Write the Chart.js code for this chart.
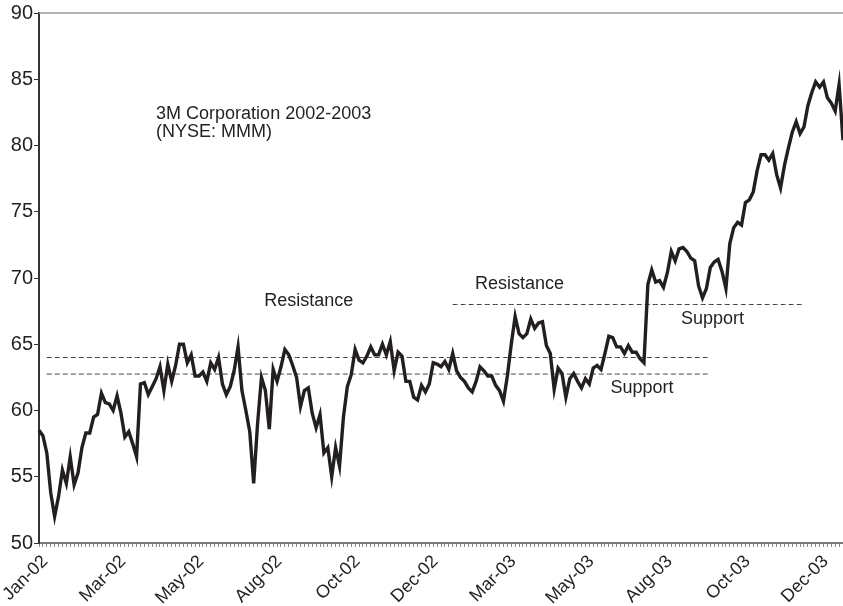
<!DOCTYPE html>
<html>
<head>
<meta charset="utf-8">
<script src="https://cdn.jsdelivr.net/npm/chart.js@4.4.1/dist/chart.umd.min.js"></script>
<style>
  html, body { margin: 0; padding: 0; background: #fff; }
  #wrap { width: 843px; height: 606px; position: relative; }
</style>
</head>
<body>
<div id="wrap"><canvas id="mmm"></canvas></div>
<script>
// month labels, one every 20 sampled trading sessions
var tickLabels = ['Jan-02', 'Mar-02', 'May-02', 'Aug-02', 'Oct-02', 'Dec-02',
                  'Mar-03', 'May-03', 'Aug-03', 'Oct-03', 'Dec-03'];
var labelEvery = 20;

// closing price
var prices = [
  58.5, 58.1, 56.8, 53.8, 52.0, 53.5, 55.5, 54.5, 56.5, 54.4,
  55.3, 57.2, 58.3, 58.3, 59.5, 59.7, 61.3, 60.6, 60.5, 60.0,
  61.1, 59.8, 58.0, 58.4, 57.5, 56.5, 62.0, 62.1, 61.2, 61.8,
  62.4, 63.3, 61.5, 63.5, 62.2, 63.4, 65.0, 65.0, 63.6, 64.2,
  62.6, 62.6, 62.9, 62.2, 63.6, 63.1, 64.0, 62.0, 61.2, 61.8,
  63.0, 64.8, 61.5, 60.0, 58.4, 54.5, 59.0, 62.5, 61.5, 58.6,
  63.1, 62.2, 63.3, 64.6, 64.2, 63.4, 62.5, 60.3, 61.5, 61.7,
  59.8, 58.7, 59.7, 56.8, 57.2, 55.0, 57.2, 55.8, 59.5, 61.8,
  62.7, 64.6, 63.8, 63.6, 64.1, 64.8, 64.2, 64.2, 65.0, 64.2,
  65.2, 63.0, 64.4, 64.1, 62.2, 62.2, 61.0, 60.8, 61.9, 61.4,
  62.0, 63.6, 63.5, 63.3, 63.7, 63.1, 64.3, 63.0, 62.5, 62.2,
  61.7, 61.4, 62.2, 63.3, 63.0, 62.6, 62.6, 61.9, 61.5, 60.7,
  62.6, 65.0, 67.1, 65.8, 65.5, 65.8, 66.9, 66.2, 66.6, 66.7,
  64.9, 64.3, 61.6, 63.2, 62.8, 61.0, 62.4, 62.8, 62.2, 61.7,
  62.4, 62.0, 63.2, 63.4, 63.1, 64.3, 65.6, 65.5, 64.8, 64.8,
  64.3, 64.9, 64.4, 64.4, 63.9, 63.6, 69.5, 70.6, 69.7, 69.8,
  69.3, 70.4, 72.0, 71.3, 72.2, 72.3, 72.0, 71.5, 71.3, 69.4,
  68.5, 69.2, 70.8, 71.2, 71.4, 70.5, 69.2, 72.6, 73.8, 74.2,
  74.0, 75.7, 75.9, 76.5, 78.1, 79.3, 79.3, 78.9, 79.4, 77.8,
  76.8, 78.5, 79.8, 81.0, 81.8, 80.9, 81.4, 83.0, 84.0, 84.8,
  84.4, 84.8, 83.6, 83.2, 82.6, 84.6, 80.4
];

// support / resistance levels and the sessions they span
var levelValues = [64.0, 62.75, 68.0];
var levelStart = [2, 2, 106];
var levelEnd = [172, 172, 196];

var categories = prices.map(function (p, i) {
  return i % labelEvery === 0 ? tickLabels[i / labelEvery] : '';
});

var font = '"Liberation Sans", Arial, Helvetica, sans-serif';
var ink = '#231f20';

// text notes, placed in data units (session index, price)
var notes = [
  { text: '3M Corporation 2002-2003', at: 30, value: 82.0 },
  { text: '(NYSE: MMM)', at: 30, value: 80.64 },
  { text: 'Resistance', at: 57.7, value: 67.9 },
  { text: 'Resistance', at: 111.7, value: 69.2 },
  { text: 'Support', at: 164.5, value: 66.5 },
  { text: 'Support', at: 146.4, value: 61.3 }
];

var datasets = [{
  data: prices,
  borderColor: ink,
  borderWidth: 3.4,
  pointRadius: 0,
  tension: 0,
  order: 0
}];
levelValues.forEach(function (v, k) {
  datasets.push({
    data: prices.map(function (p, i) {
      return i >= levelStart[k] && i <= levelEnd[k] ? v : null;
    }),
    borderColor: '#444',
    borderWidth: 1,
    borderDash: [5, 3],
    pointRadius: 0,
    spanGaps: false,
    order: 1
  });
});

var decorations = {
  id: 'decorations',
  afterDatasetsDraw: function (chart) {
    var ctx = chart.ctx, area = chart.chartArea;
    var xs = chart.scales.x, ys = chart.scales.y;
    ctx.save();
    ctx.strokeStyle = '#9a9a9a';
    ctx.lineWidth = 1.5;
    ctx.beginPath();
    ctx.moveTo(area.left, area.top);
    ctx.lineTo(area.right, area.top);
    ctx.stroke();
    ctx.fillStyle = ink;
    ctx.font = '18px ' + font;
    ctx.textAlign = 'left';
    ctx.textBaseline = 'alphabetic';
    notes.forEach(function (n) {
      ctx.fillText(n.text, xs.getPixelForValue(n.at), ys.getPixelForValue(n.value));
    });
    ctx.restore();
  }
};

new Chart(document.getElementById('mmm'), {
  type: 'line',
  data: { labels: categories, datasets: datasets },
  options: {
    responsive: true,
    maintainAspectRatio: false,
    animation: false,
    layout: { padding: { top: 13, right: 0, left: 0, bottom: 0 } },
    plugins: { legend: { display: false }, tooltip: { enabled: false } },
    scales: {
      x: {
        type: 'category',
        offset: false,
        afterFit: function (s) { s.height = 63; s.paddingRight = 0; s.paddingLeft = 0; },
        grid: { display: true, drawOnChartArea: false, drawTicks: true, tickLength: 4, color: '#8a8a8a', lineWidth: 1 },
        border: { display: true, color: '#7a7a7a', width: 2 },
        ticks: {
          autoSkip: false,
          maxRotation: 45,
          minRotation: 45,
          padding: 4,
          labelOffset: 6,
          color: ink,
          font: { family: font, size: 18 }
        }
      },
      y: {
        min: 50,
        max: 90,
        afterFit: function (s) { s.width = 39; },
        grid: { display: true, drawOnChartArea: false, drawTicks: true, tickLength: 5, color: '#333' },
        border: { display: true, color: '#333', width: 2 },
        ticks: {
          stepSize: 5,
          padding: 1,
          color: ink,
          font: { family: font, size: 20 }
        }
      }
    }
  },
  plugins: [decorations]
});
</script>
</body>
</html>
